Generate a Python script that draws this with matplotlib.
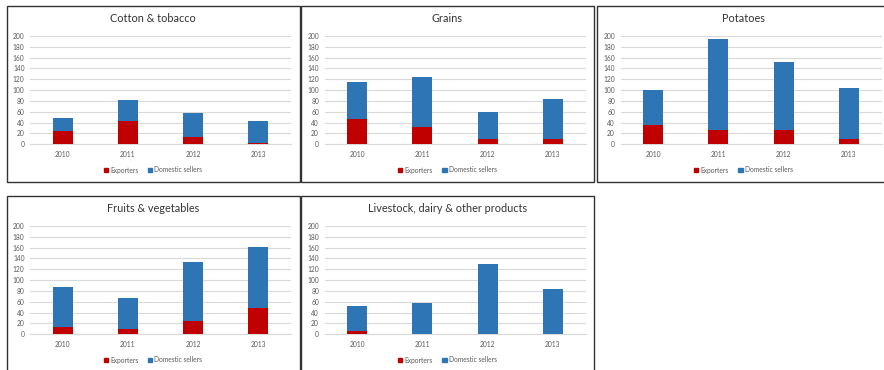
import matplotlib
matplotlib.use("Agg")
import matplotlib.pyplot as plt
from matplotlib.patches import Rectangle, Patch

plt.rcParams['font.family'] = ['Lato', 'DejaVu Sans']

years = ["2010", "2011", "2012", "2013"]
titles = ["Cotton & tobacco", "Grains", "Potatoes",
          "Fruits & vegetables", "Livestock, dairy & other products"]

# Number of exporters per year, by product group
cotton_exp = [24, 43, 14, 3]
grains_exp = [46, 32, 10, 10]
potatoes_exp = [36, 27, 27, 10]
fruits_exp = [14, 10, 25, 49]
livestock_exp = [7, 1, 0, 0]

# Total number of sellers (exporters + domestic sellers) per year
cotton_tot = [48, 81, 58, 43]
grains_tot = [115, 124, 59, 84]
potatoes_tot = [101, 194, 152, 104]
fruits_tot = [87, 67, 134, 161]
livestock_tot = [53, 58, 130, 83]

exporters = [cotton_exp, grains_exp, potatoes_exp, fruits_exp, livestock_exp]
totals = [cotton_tot, grains_tot, potatoes_tot, fruits_tot, livestock_tot]

RED = "#C00000"
BLUE = "#2E75B6"
GRID = "#D9D9D9"
TXT = "#595959"

W, H = 884, 370
fig = plt.figure(figsize=(W / 100, H / 100), dpi=100)

PW, PH = 293, 176
positions = [(6.5, 6), (301, 6), (597, 6), (6.5, 196), (301, 196)]


def fig_box(x0, y0, x1, y1):
    return [x0 / W, 1 - y1 / H, (x1 - x0) / W, (y1 - y0) / H]


for i, (L, T) in enumerate(positions):
    # panel frame
    fig.patches.append(Rectangle((L / W, 1 - (T + PH) / H), PW / W, PH / H,
                                 transform=fig.transFigure, fill=False,
                                 lw=1.0, ec="#333333", zorder=0))
    ax = fig.add_axes(fig_box(L + 23.5, T + 30, L + 284.5, T + 138.3))
    exp = exporters[i]
    dom = [t - e for t, e in zip(totals[i], exp)]
    x = range(len(years))
    ax.bar(x, exp, width=0.31, color=RED, zorder=3)
    ax.bar(x, dom, width=0.31, bottom=exp, color=BLUE, zorder=3)
    ax.set_xlim(-0.5, 3.5)
    ax.set_ylim(0, 200)
    ax.set_yticks(range(0, 201, 20))
    ax.set_xticks(list(x))
    ax.set_xticklabels(years)
    ax.grid(axis="y", color=GRID, lw=0.8, zorder=0)
    ax.set_axisbelow(True)
    for s in ["top", "right", "left"]:
        ax.spines[s].set_visible(False)
    ax.spines["bottom"].set_color(GRID)
    ax.spines["bottom"].set_linewidth(0.8)
    ax.tick_params(axis="both", length=0, labelsize=4.8, colors=TXT)
    ax.tick_params(axis="y", pad=4)
    ax.tick_params(axis="x", pad=5)
    ax.patch.set_alpha(0)

    cx = L + PW / 2
    fig.text(cx / W, 1 - (T + 13) / H, titles[i], ha="center", va="center",
             fontsize=7.8, color="#333333")
    handles = [Patch(color=RED), Patch(color=BLUE)]
    ax.legend(handles, ["Exporters", "Domestic sellers"], loc="center",
              bbox_to_anchor=(cx / W, 1 - (T + 164) / H),
              bbox_transform=fig.transFigure, ncol=2, frameon=False,
              fontsize=4.8, handlelength=0.65, handleheight=0.65,
              handletextpad=0.35, columnspacing=1.4, labelcolor=TXT)

fig.savefig("out.png", dpi=100, facecolor="white")
